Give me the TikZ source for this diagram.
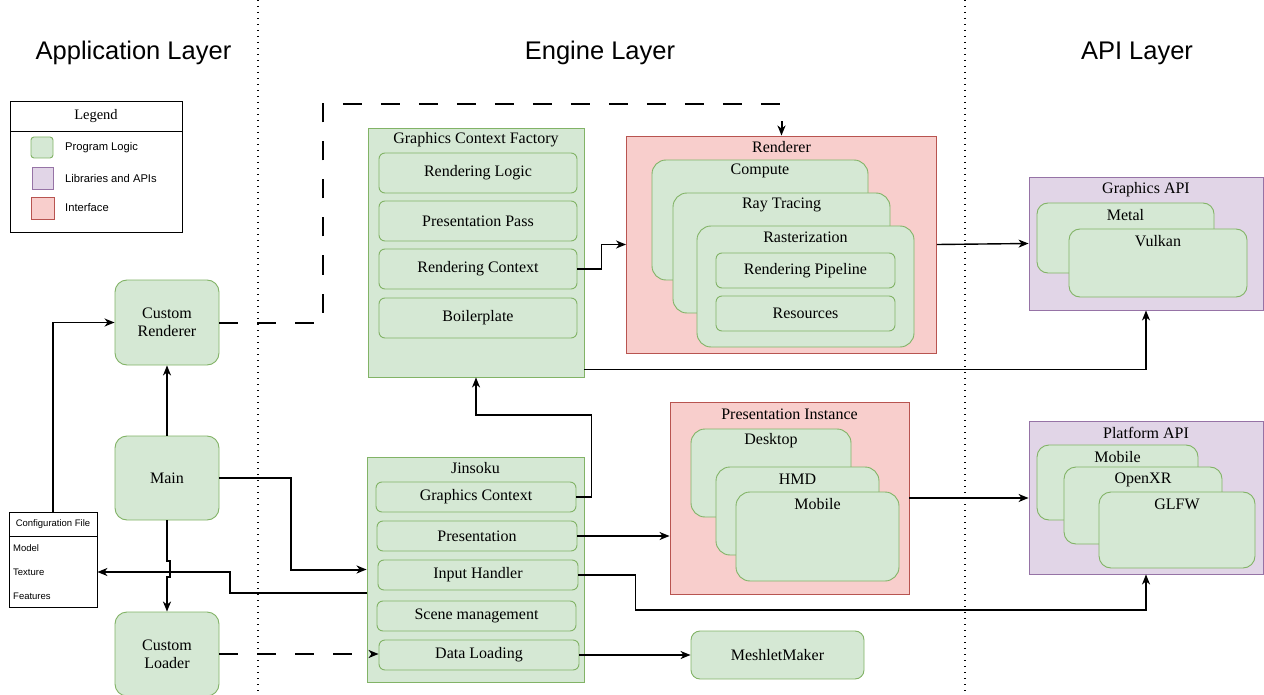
\documentclass[tikz,border=0pt]{standalone}
\usepackage{fontspec}
\setmainfont{Liberation Serif}
\newfontfamily\helv{Liberation Sans}
\usepackage{tikz}
\usetikzlibrary{calc,arrows.meta}
\definecolor{logicfill}{HTML}{D5E8D4}
\definecolor{logicline}{HTML}{82B366}
\definecolor{apifill}{HTML}{E1D5E7}
\definecolor{apiline}{HTML}{9673A6}
\definecolor{ifacefill}{HTML}{F8CECC}
\definecolor{ifaceline}{HTML}{B85450}
\newcommand{\wire}{1.4pt}
\newcommand{\heavy}{2pt}
\tikzset{
  logic/.style={draw=logicline, fill=logicfill, line width=0.9pt, inner sep=0pt},
  block/.style={logic, rounded corners=12pt},
  part/.style={logic, rounded corners=6pt},
  layer/.style={logic, rounded corners=14pt},
  iface/.style={draw=ifaceline, fill=ifacefill, line width=0.9pt, inner sep=0pt},
  lib/.style={draw=apiline, fill=apifill, line width=0.9pt, inner sep=0pt},
  txt/.style={font=\rmfamily\fontsize{16}{18}\selectfont, inner sep=0pt},
  small/.style={font=\helv\fontsize{11.2}{13}\selectfont, inner sep=0pt},
  tiny/.style={font=\helv\fontsize{9.5}{11}\selectfont, inner sep=0pt},
  heading/.style={font=\helv\fontsize{25.5}{28}\selectfont, inner sep=0pt},
  conn/.style={line width=\wire, -{Stealth[length=10pt,width=8pt,inset=3pt]}},
  heavyconn/.style={conn, line width=\heavy},
  dashconn/.style={heavyconn, dash pattern=on 19pt off 19pt},
  divider/.style={line width=1.2pt, dash pattern=on 1.2pt off 4.8pt}
}

\begin{document}
\begin{tikzpicture}[x=1pt, y=-1pt]
\useasboundingbox[fill=white] (0,0) rectangle (1264,695);
% layer dividers and headings
\draw[divider] (258,0) -- (258,695);
\draw[divider] (965,0) -- (965,695);
\node[heading] (appL) at (133.5,53) {Application Layer};
\node[heading] (engL) at (600,53) {Engine Layer};
\node[heading] (apiL) at (1137,53) {API Layer};

% legend
\node[draw, line width=0.8pt, minimum width=172pt, minimum height=131pt] (legend) at (96,166.5) {};
\draw[line width=0.8pt] (10,131) -- (182,131);
\node[font=\rmfamily\fontsize{14.5}{16}\selectfont, inner sep=0pt] (legendT) at (96,116.5) {Legend};
\node[logic, rounded corners=3pt, minimum width=22pt, minimum height=21pt] (keyLogic) at (42,147.5) {};
\node[lib, minimum width=21pt, minimum height=22pt] (keyLib) at (42.5,178) {};
\node[iface, minimum width=23pt, minimum height=22pt] (keyIface) at (42.5,208) {};
\node[small, anchor=west] at (65,147.5) {Program Logic};
\node[small, anchor=west] at (65,178) {Libraries and APIs};
\node[small, anchor=west] at (65,208) {Interface};

% configuration file
\node[draw, line width=0.8pt, minimum width=88pt, minimum height=95pt] (cfg) at (53,559.5) {};
\draw[line width=0.8pt] (9,536) -- (97,536);
\node[tiny] (cfgT) at (53,524) {Configuration File};
\node[tiny, anchor=west] (cfgModel) at (13,548) {Model};
\node[tiny, anchor=west] (cfgTex) at (13,572) {Texture};
\node[tiny, anchor=west] (cfgFeat) at (13,596) {Features};

% application blocks
\node[block, minimum width=104pt, minimum height=85pt, txt, align=center] (crend) at (167,322.5) {Custom\\Renderer};
\node[block, minimum width=104pt, minimum height=84pt, txt] (main) at (167,478) {Main};
\node[block, minimum width=104pt, minimum height=84pt, txt, align=center] (cload) at (167,654) {Custom\\Loader};

% graphics context factory
\node[logic, minimum width=216pt, minimum height=249pt] (gcf) at (476,252.5) {};
\node[txt] (gcfT) at (476,140) {Graphics Context Factory};
\node[part, minimum width=198pt, minimum height=40pt, txt] (rlogic) at (478,173) {Rendering Logic};
\node[part, minimum width=198pt, minimum height=40pt, txt] (ppass) at (478,221) {Presentation Pass};
\node[part, minimum width=198pt, minimum height=40pt, txt] (rctx) at (478,269) {Rendering Context};
\node[part, minimum width=198pt, minimum height=40pt, txt] (bplate) at (478,318) {Boilerplate};

% renderer
\node[iface, minimum width=310pt, minimum height=217pt] (rend) at (781.5,244.5) {};
\node[txt] (rendT) at (781.5,147) {Renderer};
\node[layer, minimum width=216pt, minimum height=120pt] (comp) at (760,220) {};
\node[txt] at (760,171) {Compute};
\node[layer, minimum width=217pt, minimum height=120pt] (ray) at (781.5,253) {};
\node[txt] at (781.5,205) {Ray Tracing};
\node[layer, minimum width=217pt, minimum height=121pt] (rast) at (805.5,286.5) {};
\node[txt] at (805.5,237) {Rasterization};
\node[part, minimum width=179pt, minimum height=35pt, txt] (rpipe) at (805.5,270.5) {Rendering Pipeline};
\node[part, minimum width=179pt, minimum height=35pt, txt] (rres) at (805.5,313.5) {Resources};

% graphics api
\node[lib, minimum width=234pt, minimum height=133pt] (gapi) at (1146,243.5) {};
\node[txt] (gapiT) at (1146,190) {Graphics API};
\node[layer, rounded corners=11pt, minimum width=177pt, minimum height=70pt] (metal) at (1125.5,238) {};
\node[txt] at (1125.5,215) {Metal};
\node[layer, rounded corners=11pt, minimum width=178pt, minimum height=68pt] (vulkan) at (1158,263) {};
\node[txt] at (1158,241) {Vulkan};

% jinsoku
\node[logic, minimum width=217pt, minimum height=225pt] (jin) at (475.5,569.5) {};
\node[txt] (jinT) at (475.5,468) {Jinsoku};
\node[part, minimum width=200pt, minimum height=30pt, txt] (gctx) at (476,497) {Graphics Context};
\node[part, minimum width=200pt, minimum height=30pt, txt] (pres) at (477,536) {Presentation};
\node[part, minimum width=200pt, minimum height=30pt, txt] (inhand) at (478,575) {Input Handler};
\node[part, minimum width=199pt, minimum height=30pt, txt] (scene) at (476.5,616) {Scene management};
\node[part, minimum width=200pt, minimum height=30pt, txt] (dload) at (479,655) {Data Loading};

% presentation instance
\node[iface, minimum width=239pt, minimum height=192pt] (pinst) at (789.5,498) {};
\node[txt] (pinstT) at (789.5,414) {Presentation Instance};
\node[layer, minimum width=160pt, minimum height=88pt] (desk) at (771,473) {};
\node[txt] at (771,441) {Desktop};
\node[layer, minimum width=163pt, minimum height=88pt] (hmd) at (797.5,511) {};
\node[txt] at (797.5,479) {HMD};
\node[layer, minimum width=163pt, minimum height=89pt] (mobile) at (817.5,536.5) {};
\node[txt] at (817.5,504) {Mobile};

% platform api
\node[lib, minimum width=234pt, minimum height=153pt] (papi) at (1146,497.5) {};
\node[txt] (papiT) at (1146,433) {Platform API};
\node[layer, rounded corners=12pt, minimum width=161pt, minimum height=75pt] (pmobile) at (1117.5,482.5) {};
\node[txt] at (1117.5,457) {Mobile};
\node[layer, rounded corners=12pt, minimum width=158pt, minimum height=77pt] (openxr) at (1143,505.5) {};
\node[txt] at (1143,480) {OpenXR};
\node[layer, rounded corners=12pt, minimum width=156pt, minimum height=76pt] (glfw) at (1177,530) {};
\node[txt] at (1177,504) {GLFW};

% meshlet maker
\node[block, rounded corners=9pt, minimum width=173pt, minimum height=48pt, txt] (mesh) at (777.5,655) {MeshletMaker};

% connectors
\draw[conn] (cfg.north) |- (crend.west);
\draw[conn] (main.north) -- (crend.south);
\draw[heavyconn] (main.east) -- ++(72,0) |- (jin.west);
\draw[heavyconn] (main.south) -- ++(0,41) -- ++(3,0) -- ++(0,16) -- ++(-3,0) -- (cload.north);
\draw[heavyconn] ($(jin.west)+(0,23.5)$) -- ++(-137,0) |- (cfg.east |- cfgTex);
\draw[dashconn] (crend.east) -- ++(104,0) -- ++(0,-218.5) -| (rend.north);
\draw[dashconn] (cload.east) -- (cload.east -| dload.west);
\draw[conn] (rctx.east) -- ++(24,0) |- (rend.west);
\draw[conn] (rend.east) -- (gapi.west);
\draw[conn] ($(gcf.south east)+(0,-8)$) -| (gapi.south);
\draw[conn] (gctx.east) -- ++(15,0) -- ++(0,-82) -| (gcf.south);
\draw[conn] (pres.east) -- (pres.east -| pinst.west);
\draw[conn] (pinst.east) -- (pinst.east -| papi.west);
\draw[conn] (inhand.east) -- ++(57,0) -- ++(0,35) -| (papi.south);
\draw[conn] (dload.east) -- (dload.east -| mesh.west);
\end{tikzpicture}
\end{document}
